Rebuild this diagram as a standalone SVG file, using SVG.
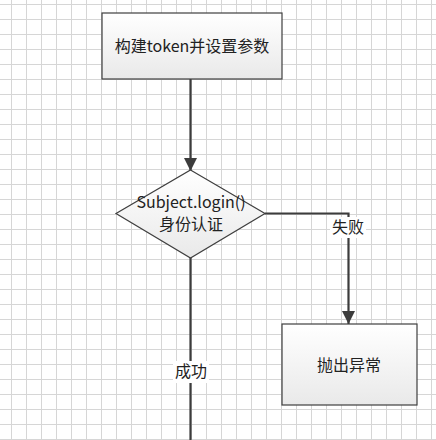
<svg xmlns="http://www.w3.org/2000/svg" width="436" height="440" viewBox="0 0 436 440">
<defs>
<pattern id="grid" x="0" y="0" width="15" height="15" patternUnits="userSpaceOnUse">
<path d="M11.5 0V15M0 4.5H15" stroke="#d6d6d6" stroke-width="1" fill="none"/>
</pattern>
<linearGradient id="fillg" x1="0" y1="0" x2="0" y2="1">
<stop offset="0" stop-color="#ffffff"/>
<stop offset="1" stop-color="#e9e9e9"/>
</linearGradient>
<marker id="arr" viewBox="0 0 13 14" refX="13" refY="6.5" markerWidth="13" markerHeight="14" markerUnits="userSpaceOnUse" orient="auto">
<path d="M0 0L13 6.5L0 13Z" fill="#3c3c3c"/>
</marker>
<style>
.node{fill:url(#fillg);stroke:#3f3f3f;stroke-width:1.2}
.txt{font-family:"Microsoft YaHei","Noto Sans CJK SC","Noto Sans",sans-serif;font-size:16px;fill:#222;text-anchor:middle}
.lbl{font-family:"Noto Sans CJK SC","Noto Sans",sans-serif;font-size:16px;fill:#222;text-anchor:middle}
.conn{stroke:#3c3c3c;stroke-width:2.2;fill:none}
</style>
</defs>
<rect width="436" height="440" fill="#ffffff"/>
<rect width="436" height="440" fill="url(#grid)"/>
<g id="connectors">
<path class="conn" d="M190.5 79V171" marker-end="url(#arr)"/>
<path class="conn" d="M265 213.5H348.5V324" marker-end="url(#arr)"/>
<path class="conn" d="M190.5 258V440"/>
<rect x="330" y="217" width="36" height="21" fill="#ffffff"/>
<text class="lbl" x="348" y="233">失败</text>
<rect x="173" y="361" width="36" height="22" fill="#ffffff"/>
<text class="lbl" x="191" y="377">成功</text>
</g>
<g id="build-token">
<rect class="node" x="102" y="13" width="180" height="66"/>
<text class="txt" x="192" y="52">构建token并设置参数</text>
</g>
<g id="subject-login">
<path class="node" d="M190.5 170L265 213.5L190.5 258L116 213.5Z"/>
<text class="txt" x="191" y="208" font-size="15">Subject.login()</text>
<text class="txt" x="191" y="230">身份认证</text>
</g>
<g id="throw-exception">
<rect class="node" x="282" y="324" width="135" height="81"/>
<text class="txt" x="349" y="371">抛出异常</text>
</g>
</svg>
